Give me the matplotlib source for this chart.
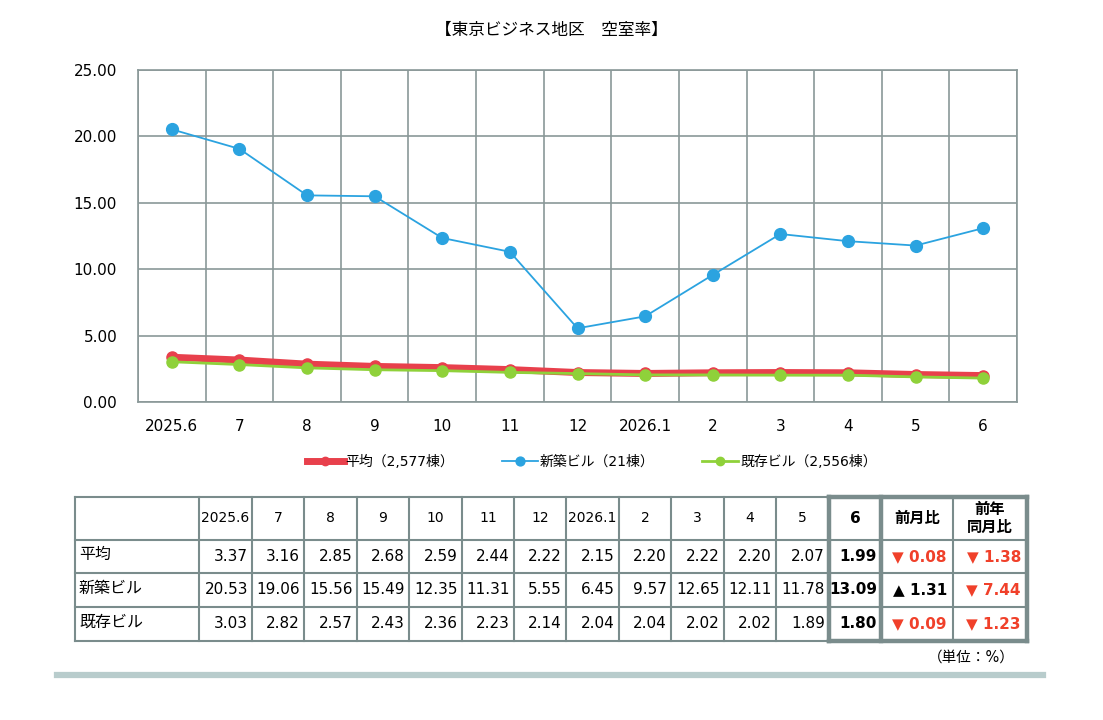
import matplotlib
matplotlib.use("Agg")
import matplotlib.pyplot as plt
import numpy as np

plt.rcParams['font.family'] = ['DejaVu Sans', 'Noto Sans CJK JP']

months = ["2025.6", "7", "8", "9", "10", "11", "12", "2026.1", "2", "3", "4", "5", "6"]
avg = [3.37, 3.16, 2.85, 2.68, 2.59, 2.44, 2.22, 2.15, 2.20, 2.22, 2.20, 2.07, 1.99]
new_bldg = [20.53, 19.06, 15.56, 15.49, 12.35, 11.31, 5.55, 6.45, 9.57, 12.65, 12.11, 11.78, 13.09]
old_bldg = [3.03, 2.82, 2.57, 2.43, 2.36, 2.23, 2.14, 2.04, 2.04, 2.02, 2.02, 1.89, 1.80]
row_names = ["平均", "新築ビル", "既存ビル"]
legend_names = ["平均（2,577棟）", "新築ビル（21棟）", "既存ビル（2,556棟）"]

RED = "#e8404c"
BLUE = "#2ba3e0"
GREEN = "#8fd13a"
GRID = "#8a9898"
TXT_RED = "#f0402a"

fig = plt.figure(figsize=(11.03, 7.2), dpi=100)
fig.text(0.5, 1 - 30 / 720, "【東京ビジネス地区　空室率】", ha="center", va="center", fontsize=12)

# line chart
ax = fig.add_axes([138 / 1103, 1 - 402 / 720, (1017 - 138) / 1103, (402 - 70) / 720])
x = np.arange(len(months))
ax.plot(x, avg, color=RED, lw=5, marker="o", ms=8, label=legend_names[0], zorder=4)
ax.plot(x, new_bldg, color=BLUE, lw=1.3, marker="o", ms=8.5, label=legend_names[1], zorder=3)
ax.plot(x, old_bldg, color=GREEN, lw=2, marker="o", ms=8, label=legend_names[2], zorder=5)
ax.set_xlim(-0.5, len(months) - 0.5)
ax.set_ylim(0, 25)
ax.set_yticks(np.arange(0, 26, 5))
ax.set_yticklabels([f"{v:.2f}" for v in np.arange(0, 26, 5)])
ax.set_xticks(x)
ax.set_xticklabels(months)
ax.set_xticks(np.arange(-0.5, len(months)), minor=True)
ax.grid(True, which="minor", axis="x", color=GRID, lw=1.2)
ax.grid(True, which="major", axis="y", color=GRID, lw=1.2)
ax.tick_params(which="both", length=0)
ax.tick_params(axis="y", pad=15, labelsize=11)
ax.tick_params(axis="x", pad=12, labelsize=11)
for s in ax.spines.values():
    s.set_color(GRID)
    s.set_linewidth(1.2)

fig.legend(loc="center", bbox_to_anchor=(592 / 1103, 1 - 462 / 720), ncol=3, frameon=False,
           fontsize=10, handlelength=2.6, columnspacing=3.4, handletextpad=0.15, markerscale=0.75)

# table
tb = fig.add_axes([0, 0, 1, 1])
tb.set_xlim(0, 1103)
tb.set_ylim(720, 0)
tb.axis("off")
col_x = [75, 199, 252, 304, 357, 409, 462, 514, 566, 619, 671, 724, 776, 829, 881, 953, 1027]
row_y = [497, 540, 573, 607, 641]
TBL = "#7a8c8c"
for cx in col_x:
    tb.plot([cx, cx], [row_y[0], row_y[-1]], color=TBL, lw=1.5)
for ry in row_y:
    tb.plot([col_x[0], col_x[-1]], [ry, ry], color=TBL, lw=1.5)
# thick block
bx0, bx1, bx2 = col_x[13], col_x[14], col_x[16]
for xs, ys in [([bx0, bx2], [row_y[0], row_y[0]]), ([bx0, bx2], [row_y[-1], row_y[-1]]),
               ([bx0, bx0], [row_y[0], row_y[-1]]), ([bx1, bx1], [row_y[0], row_y[-1]]),
               ([bx2, bx2], [row_y[0], row_y[-1]])]:
    tb.plot(xs, ys, color=TBL, lw=3.2, solid_capstyle="projecting")

hy = (row_y[0] + row_y[1]) / 2
for i, m in enumerate(months):
    cx = (col_x[i + 1] + col_x[i + 2]) / 2
    tb.text(cx, hy, m, ha="center", va="center", fontsize=10 if i != 12 else 11,
            fontweight="bold" if i == 12 else "normal")
tb.text((col_x[14] + col_x[15]) / 2, hy, "前月比", ha="center", va="center", fontsize=11, fontweight="bold")
tb.text((col_x[15] + col_x[16]) / 2, hy, "前年\n同月比", ha="center", va="center", fontsize=11,
        fontweight="bold", linespacing=1.25)

for r, vals in enumerate([avg, new_bldg, old_bldg]):
    cy = (row_y[r + 1] + row_y[r + 2]) / 2
    tb.text(col_x[0] + 4, cy - 2, row_names[r], ha="left", va="center", fontsize=11.5)
    for i, v in enumerate(vals):
        tb.text(col_x[i + 2] - 4, cy, f"{v:.2f}", ha="right", va="center", fontsize=11,
                fontweight="bold" if i == 12 else "normal")
    for k, d in enumerate([vals[-1] - vals[-2], vals[-1] - vals[0]]):
        sym = "▲" if d > 0 else "▼"
        col = "black" if d > 0 else TXT_RED
        tb.text(col_x[16 - 1 + k] - 6, cy, f"{sym} {abs(d):.2f}", ha="right", va="center",
                fontsize=11, fontweight="bold", color=col)

tb.text(1015, 657, "（単位：%）", ha="right", va="center", fontsize=10.5)
tb.plot([57, 1043], [675, 675], color="#b8cccc", lw=4.5)

fig.savefig("out.png", dpi=100)
